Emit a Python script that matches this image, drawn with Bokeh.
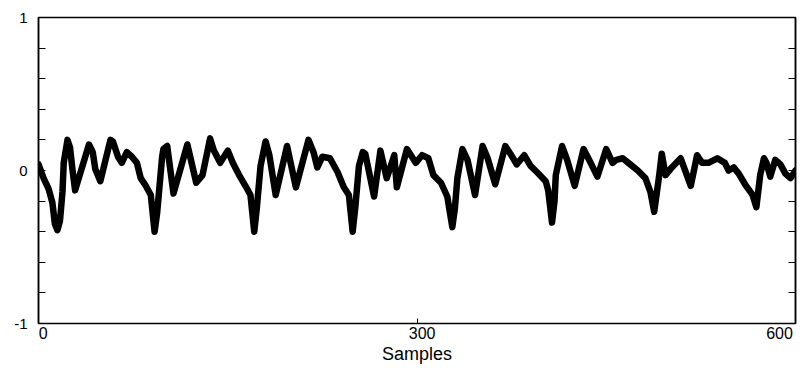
from bokeh.plotting import figure
from bokeh.models import Range1d, LinearAxis, FixedTicker
from bokeh.embed import file_html
from bokeh.resources import INLINE

# --- data ---
samples = [0, 4, 8, 11, 13, 15, 17, 19, 20, 23, 25, 27, 29, 40, 43, 45, 49, 57, 59, 63, 66, 70, 74, 78,
           81, 85, 89, 92, 94, 98, 99, 102, 107, 118, 125, 130, 136, 139, 144, 150, 154, 159, 164, 168,
           171, 173, 176, 180, 183, 188, 197, 204, 214, 218, 221, 225, 231, 237, 242, 246, 249, 251,
           254, 257, 259, 266, 271, 276, 282, 284, 292, 299, 304, 309, 313, 319, 324, 328, 330, 332,
           336, 340, 346, 352, 356, 362, 370, 374, 379, 385, 390, 395, 402, 404, 407, 409, 410, 415,
           419, 425, 432, 437, 443, 450, 455, 458, 463, 469, 475, 481, 485, 488, 490, 492, 494, 497,
           502, 509, 517, 522, 526, 531, 538, 544, 547, 551, 555, 560, 566, 569, 572, 575, 577, 580,
           584, 588, 592, 596, 600]
amplitude = [0.04, -0.05, -0.12, -0.21, -0.35, -0.39, -0.33, -0.14, 0.05, 0.20, 0.15, 0.00, -0.13,
             0.17, 0.12, 0.01, -0.07, 0.20, 0.19, 0.09, 0.05, 0.12, 0.09, 0.05,
             -0.05, -0.10, -0.16, -0.40, -0.28, 0.09, 0.14, 0.16, -0.15, 0.17, -0.08, -0.03, 0.21,
             0.13, 0.05, 0.13, 0.05, -0.03, -0.10, -0.16,
             -0.40, -0.25, 0.03, 0.19, 0.10, -0.16, 0.16, -0.11, 0.20, 0.12, 0.02, 0.09, 0.08, -0.01,
             -0.11, -0.16, -0.40, -0.25,
             0.03, 0.12, 0.11, -0.17, 0.13, -0.05, 0.10, -0.11, 0.14, 0.05, 0.10, 0.08, -0.03, -0.08,
             -0.17, -0.37, -0.25, -0.05,
             0.14, 0.07, -0.16, 0.16, 0.08, -0.09, 0.16, 0.11, 0.04, 0.10, 0.03, -0.01, -0.07, -0.13,
             -0.34, -0.20, -0.03, 0.16,
             0.07, -0.10, 0.14, 0.06, -0.04, 0.14, 0.05, 0.07, 0.08, 0.04, 0.00, -0.05, -0.14, -0.27,
             -0.15, -0.03, 0.11, -0.03,
             0.02, 0.08, -0.10, 0.10, 0.05, 0.05, 0.08, 0.05, 0.00, 0.02, -0.02, -0.09, -0.16, -0.24,
             -0.03, 0.08, 0.05, -0.04,
             0.07, 0.04, -0.02, -0.05, 0.00]

x_tick_values = [0, 300, 600]
x_tick_labels = ["0", "300", "600"]
x_label_anchor = [3.7, 304.1, 587.3]   # where the printed labels sit along the axis
y_tick_values = [-1, 0, 1]
y_tick_labels = ["-1", "0", "1"]
y_minor = [-0.8, -0.6, -0.4, -0.2, 0.2, 0.4, 0.6, 0.8]
x_title = "Samples"

FONT = "Liberation Sans"

p = figure(width=800, height=368, output_backend="svg", toolbar_location=None,
           x_range=Range1d(0, 600), y_range=Range1d(-1, 1),
           x_axis_location=None, y_axis_location=None,
           min_border_left=38, min_border_right=5, min_border_top=17, min_border_bottom=45)
p.grid.visible = False
p.outline_line_color = "black"
p.outline_line_width = 1.5
p.background_fill_color = "white"
p.border_fill_color = "white"

# left axis with inward ticks and labels
ly = LinearAxis(ticker=FixedTicker(ticks=y_tick_values, minor_ticks=y_minor))
ly.major_label_overrides = {v: t for v, t in zip(y_tick_values, y_tick_labels)}
ly.major_tick_in = 7
ly.major_tick_out = 0
ly.minor_tick_in = 7
ly.minor_tick_out = 0
ly.major_label_standoff = 11
ly.major_label_text_font = FONT
ly.major_label_text_font_size = "15px"
ly.major_label_text_color = "black"
ly.axis_line_color = "black"
ly.axis_line_width = 1.5
p.add_layout(ly, "left")

# right axis: ticks only
ry = LinearAxis(ticker=FixedTicker(ticks=y_tick_values, minor_ticks=y_minor))
ry.major_label_overrides = {v: "" for v in y_tick_values}
ry.major_label_standoff = 0
ry.major_label_text_font_size = "0px"
ry.major_tick_in = 7
ry.major_tick_out = 0
ry.minor_tick_in = 7
ry.minor_tick_out = 0
ry.axis_line_color = "black"
ry.axis_line_width = 1.5
p.add_layout(ry, "right")

# bottom axis: inward ticks only
bx = LinearAxis(ticker=FixedTicker(ticks=x_tick_values, minor_ticks=[]))
bx.major_label_overrides = {v: "" for v in x_tick_values}
bx.major_label_text_font_size = "0px"
bx.major_label_standoff = 0
bx.major_tick_in = 5
bx.major_tick_out = 0
bx.axis_line_color = "black"
bx.axis_line_width = 1
p.add_layout(bx, "below")

# bottom labels axis: printed tick labels and title
bl = LinearAxis(ticker=FixedTicker(ticks=x_label_anchor, minor_ticks=[]))
bl.major_label_overrides = {a: t for a, t in zip(x_label_anchor, x_tick_labels)}
bl.major_label_text_font = FONT
bl.major_label_text_font_size = "16px"
bl.major_label_text_color = "black"
bl.major_label_standoff = 3
bl.major_tick_in = 0
bl.major_tick_out = 0
bl.major_tick_line_color = None
bl.minor_tick_line_color = None
bl.axis_line_color = None
bl.axis_label = x_title
bl.axis_label_text_font = FONT
bl.axis_label_text_font_size = "18px"
bl.axis_label_text_font_style = "normal"
bl.axis_label_text_color = "black"
bl.axis_label_standoff = 2
p.add_layout(bl, "below")

p.line(samples, amplitude, line_color="black", line_width=6.5, line_join="round", line_cap="round")

open("out.html", "w").write(file_html(p, INLINE))
